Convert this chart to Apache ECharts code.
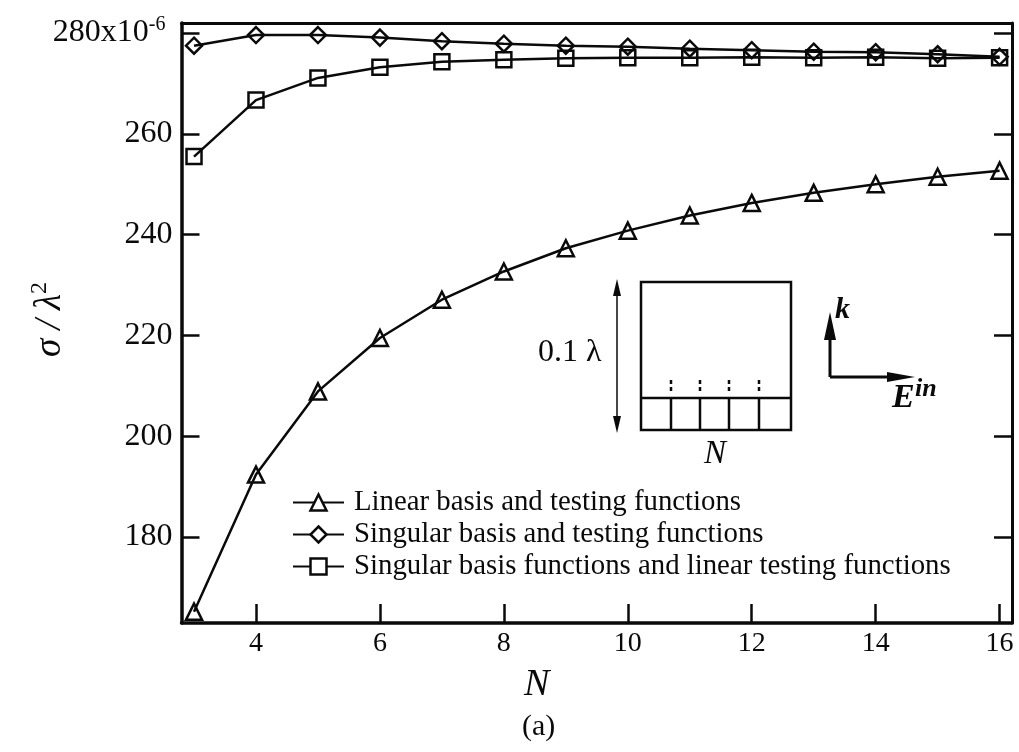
<!DOCTYPE html>
<html><head><meta charset="utf-8">
<style>html,body{margin:0;padding:0;background:#fff}#c{width:1019px;height:752px}</style>
<script src="https://cdn.jsdelivr.net/npm/echarts@6/dist/echarts.min.js"></script>
</head><body><div id="c"></div>
<script>
const nValues = [3,4,5,6,7,8,9,10,11,12,13,14,15,16];
const linearBasis = [165.2,192.4,208.9,219.5,227.1,232.7,237.3,240.8,243.8,246.3,248.3,250,251.5,252.7];
const singularBasis = [277.5,279.6,279.6,279.1,278.4,277.9,277.5,277.3,276.9,276.6,276.3,276.2,275.8,275.3];
const singularLinear = [255.5,266.7,271.1,273.2,274.3,274.7,275,275.1,275.1,275.2,275.1,275.2,275,275.1];
const xTicks = [4,6,8,10,12,14,16];
const yTicks = [180,200,220,240,260,280];
const seriesNames = ['Linear basis and testing functions','Singular basis and testing functions','Singular basis functions and linear testing functions'];
const F = '"Liberation Serif","Times New Roman",serif';
const K = '#0a0a0a';
const chart = echarts.init(document.getElementById('c'), null, {renderer:'canvas'});
const pair = a => a.map((v,i)=>[nValues[i],v]);
const mk = (name,data,symbol,size) => ({
  name,type:'line',data:pair(data),symbol,symbolSize:size,showAllSymbol:true,
  lineStyle:{color:K,width:2.5},itemStyle:{color:'rgba(255,255,255,0)',borderColor:K,borderWidth:2.5},
  emphasis:{disabled:true},animation:false,z:3
});
const line=(x1,y1,x2,y2,w)=>({type:'line',shape:{x1,y1,x2,y2},style:{stroke:K,lineWidth:w||2},silent:true});
const dash=x=>({type:'line',shape:{x1:x,y1:380,x2:x,y2:394},style:{stroke:K,lineWidth:2.5,lineDash:[4,3]},silent:true});
const tri=p=>({type:'polygon',shape:{points:p},style:{fill:K},silent:true});
const txt=(x,y,text,font)=>({type:'text',x,y,style:{text,fill:K,font,textVerticalAlign:'middle'},silent:true});
chart.setOption({
  animation:false,backgroundColor:'#fff',
  grid:{left:181.5,top:23,width:830.5,height:600,containLabel:false},
  xAxis:[{type:'value',min:2.798,max:16.2,position:'bottom',name:'N',nameLocation:'middle',nameGap:43,
    nameTextStyle:{fontFamily:F,fontSize:38,fontStyle:'italic',color:K,padding:[0,120,0,0]},
    axisLine:{lineStyle:{color:K,width:3.5}},
    axisTick:{show:true,inside:true,length:19,customValues:xTicks,lineStyle:{color:K,width:2.5}},
    axisLabel:{customValues:xTicks,fontFamily:F,fontSize:28,color:K,margin:7},
    splitLine:{show:false}},
   {type:'value',min:2.798,max:16.2,position:'top',axisLine:{lineStyle:{color:K,width:3}},axisTick:{show:false},axisLabel:{show:false},splitLine:{show:false}}],
  yAxis:[{type:'value',min:162.95,max:282,position:'left',
    axisLine:{lineStyle:{color:K,width:3.5}},
    axisTick:{show:true,inside:true,length:18,customValues:yTicks,lineStyle:{color:K,width:2.5}},
    axisLabel:{customValues:yTicks,fontFamily:F,fontSize:32,color:K,margin:9,
      formatter:v=>v===280?'{m|280x10}{s|-6}{p|}':'{m|'+v+'}',
      rich:{m:{fontFamily:F,fontSize:32,color:K,lineHeight:36},s:{fontFamily:F,fontSize:20,color:K,verticalAlign:'top',lineHeight:36},p:{width:7}}},
    splitLine:{show:false}},
   {type:'value',min:162.95,max:282,position:'right',
    axisLine:{lineStyle:{color:K,width:3}},
    axisTick:{show:true,inside:true,length:18,customValues:yTicks,lineStyle:{color:K,width:2.5}},
    axisLabel:{show:false},splitLine:{show:false}}],
  legend:{show:true,orient:'vertical',left:287,top:483,itemWidth:51,itemHeight:20,itemGap:3,
    data:seriesNames.map(name=>({name,itemStyle:{color:'#fff',borderColor:K,borderWidth:2.5}})),selectedMode:false,
    textStyle:{fontFamily:F,fontSize:28.8,color:K,padding:[0,0,0,5]}},
  series:[mk(seriesNames[0],linearBasis,'triangle',16),mk(seriesNames[1],singularBasis,'diamond',16),mk(seriesNames[2],singularLinear,'rect',15)],
  graphic:[
    {type:'group',silent:true,children:[
      {type:'rect',shape:{x:641,y:282,width:150,height:148},style:{fill:'none',stroke:K,lineWidth:2.5}},
      line(641,398,791,398,2.5),
      line(671,398,671,430,2.5),line(700,398,700,430,2.5),line(729,398,729,430,2.5),line(759,398,759,430,2.5),
      dash(671),dash(700),dash(729),dash(759),
      line(617,285,617,428,1.5),
      tri([[617,279],[613,296],[621,296]]),tri([[617,433],[613,416],[621,416]]),
      line(830,377,830,335,3),line(830,377,892,377,3),
      tri([[830,312],[824,340],[836,340]]),tri([[915,377],[887,372],[887,382]]),
      txt(538,353,'0.1 λ','32px '+F),
      txt(835,310,'k','italic bold 30px '+F),
      txt(892,398,'E','italic bold 34px '+F),
      txt(915,389,'in','italic bold 26px '+F),
      txt(704,454,'N','italic 33px '+F),
      txt(522,727,'(a)','30px '+F),
      {type:'text',rotation:Math.PI/2,x:50,y:357,style:{text:'{a|σ / λ}{b|2}',fill:K,textVerticalAlign:'middle',
        rich:{a:{fontFamily:F,fontSize:37,fontStyle:'italic',color:K,lineHeight:44},b:{fontFamily:F,fontSize:24,color:K,verticalAlign:'top',lineHeight:44}}}}
    ]}
  ]
});
</script></body></html>
